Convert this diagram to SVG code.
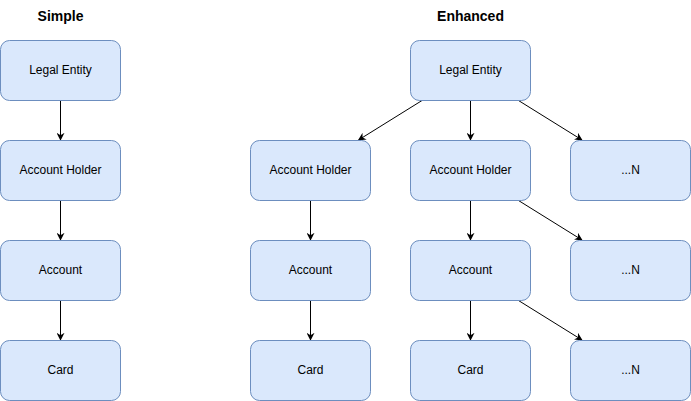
<svg xmlns="http://www.w3.org/2000/svg" width="691" height="401" viewBox="0 0 691 401">
<defs>
<style>
.box{fill:#dae8fc;stroke:#6c8ebf;stroke-width:1}
.lbl{font-family:"Liberation Sans",Arial,sans-serif;font-size:12px;fill:#000;text-anchor:middle;dominant-baseline:central}
.title{font-family:"Liberation Sans",Arial,sans-serif;font-size:14px;font-weight:bold;fill:#000;text-anchor:middle;dominant-baseline:central}
.edge{stroke:#000;stroke-width:1;fill:none;marker-end:url(#arr)}
</style>
<marker id="arr" viewBox="0 0 10 10" refX="9" refY="5" markerWidth="8" markerHeight="8" markerUnits="userSpaceOnUse" orient="auto">
<path d="M0,0 L10,5 L0,10 L3,5 Z" fill="#000"/>
</marker>
</defs>
<rect width="691" height="401" fill="#fff"/>
<text class="title" x="60.5" y="15.5">Simple</text>
<text class="title" x="470.5" y="15.5">Enhanced</text>
<g id="connectors">
<line class="edge" x1="60.5" y1="100.5" x2="60.5" y2="140"/>
<line class="edge" x1="60.5" y1="200.5" x2="60.5" y2="240"/>
<line class="edge" x1="60.5" y1="300.5" x2="60.5" y2="340"/>
<line class="edge" x1="422" y1="100.5" x2="358.5" y2="140"/>
<line class="edge" x1="470.5" y1="100.5" x2="470.5" y2="140"/>
<line class="edge" x1="518.5" y1="100.5" x2="582" y2="140"/>
<line class="edge" x1="310.5" y1="200.5" x2="310.5" y2="240"/>
<line class="edge" x1="470.5" y1="200.5" x2="470.5" y2="240"/>
<line class="edge" x1="518.5" y1="200.5" x2="582" y2="240"/>
<line class="edge" x1="310.5" y1="300.5" x2="310.5" y2="340"/>
<line class="edge" x1="470.5" y1="300.5" x2="470.5" y2="340"/>
<line class="edge" x1="518.5" y1="300.5" x2="582" y2="340"/>
</g>
<g id="s-legal"><rect class="box" x="0.5" y="40.5" width="120" height="60" rx="9"/><text class="lbl" x="60.5" y="69.5">Legal Entity</text></g>
<g id="s-holder"><rect class="box" x="0.5" y="140.5" width="120" height="60" rx="9"/><text class="lbl" x="60.5" y="169.5">Account Holder</text></g>
<g id="s-account"><rect class="box" x="0.5" y="240.5" width="120" height="60" rx="9"/><text class="lbl" x="60.5" y="269.5">Account</text></g>
<g id="s-card"><rect class="box" x="0.5" y="340.5" width="120" height="60" rx="9"/><text class="lbl" x="60.5" y="369.5">Card</text></g>
<g id="e-legal"><rect class="box" x="410.5" y="40.5" width="120" height="60" rx="9"/><text class="lbl" x="470.5" y="69.5">Legal Entity</text></g>
<g id="e-holder1"><rect class="box" x="250.5" y="140.5" width="120" height="60" rx="9"/><text class="lbl" x="310.5" y="169.5">Account Holder</text></g>
<g id="e-holder2"><rect class="box" x="410.5" y="140.5" width="120" height="60" rx="9"/><text class="lbl" x="470.5" y="169.5">Account Holder</text></g>
<g id="e-n1"><rect class="box" x="570.5" y="140.5" width="120" height="60" rx="9"/><text class="lbl" x="630.5" y="169.5">...N</text></g>
<g id="e-account1"><rect class="box" x="250.5" y="240.5" width="120" height="60" rx="9"/><text class="lbl" x="310.5" y="269.5">Account</text></g>
<g id="e-account2"><rect class="box" x="410.5" y="240.5" width="120" height="60" rx="9"/><text class="lbl" x="470.5" y="269.5">Account</text></g>
<g id="e-n2"><rect class="box" x="570.5" y="240.5" width="120" height="60" rx="9"/><text class="lbl" x="630.5" y="269.5">...N</text></g>
<g id="e-card1"><rect class="box" x="250.5" y="340.5" width="120" height="60" rx="9"/><text class="lbl" x="310.5" y="369.5">Card</text></g>
<g id="e-card2"><rect class="box" x="410.5" y="340.5" width="120" height="60" rx="9"/><text class="lbl" x="470.5" y="369.5">Card</text></g>
<g id="e-n3"><rect class="box" x="570.5" y="340.5" width="120" height="60" rx="9"/><text class="lbl" x="630.5" y="369.5">...N</text></g>
</svg>
